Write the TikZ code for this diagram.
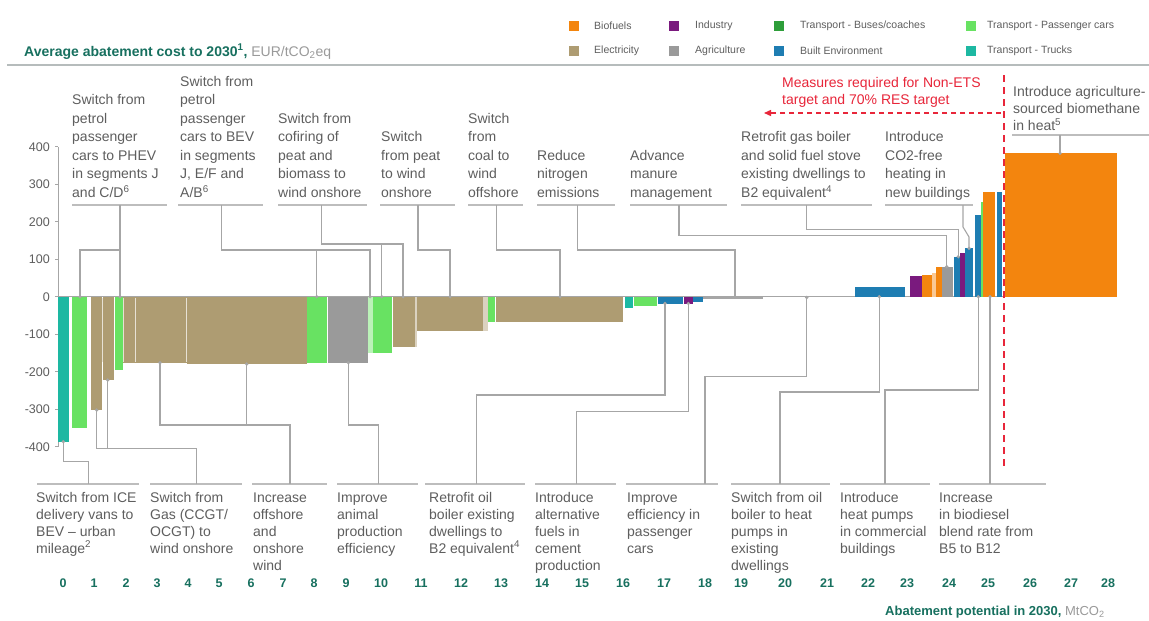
\documentclass[tikz,border=0pt]{standalone}
\usepackage{fontspec}
\setmainfont{Liberation Sans}
\usetikzlibrary{arrows.meta}
\definecolor{cBio}{HTML}{F3850E}
\definecolor{cInd}{HTML}{7A1A7E}
\definecolor{cBus}{HTML}{2E9E3A}
\definecolor{cCar}{HTML}{68E262}
\definecolor{cEle}{HTML}{AE9C72}
\definecolor{cAgr}{HTML}{9A9A9A}
\definecolor{cBui}{HTML}{1E7DB2}
\definecolor{cTru}{HTML}{1DB8A2}
\definecolor{cTeal}{HTML}{17705F}
\definecolor{cTxt}{HTML}{5E5E5E}
\definecolor{cGrey}{HTML}{9A9A9A}
\definecolor{cLine}{HTML}{A6A6A6}
\definecolor{cUl}{HTML}{BDBDBD}
\definecolor{cRule}{HTML}{B6BCBC}
\definecolor{cRed}{HTML}{E8263A}
\begin{document}
\begin{tikzpicture}[x=1pt,y=-1pt,
  lbl/.style={font=\fontsize{14}{18.5}\selectfont, text=cTxt, align=left, inner sep=0pt},
  toplbl/.style={lbl, anchor=south west},
  botlbl/.style={font=\fontsize{14}{17}\selectfont, text=cTxt, align=left, inner sep=0pt, anchor=north west},
  conn/.style={draw=cLine, line width=1.1pt},
  uline/.style={draw=cUl, line width=1.2pt},
  dot/.style={fill=cLine},
  ticklab/.style={font=\fontsize{12.5}{14}\selectfont\bfseries, text=cTeal, inner sep=0pt},
  ylab/.style={font=\fontsize{12.5}{14}\selectfont, text=cTxt, anchor=east, inner sep=0pt},
  legsq/.style={minimum size=10pt, inner sep=0pt},
  legtxt/.style={font=\fontsize{10.5}{12}\selectfont, text=cTxt, anchor=west, inner sep=0pt}
]
\fill[white] (0,0) rectangle (1149,621);
\useasboundingbox (0,0) rectangle (1149,621);

% ---------- header ----------
\node[anchor=base west, inner sep=0pt, font=\fontsize{14}{16}\selectfont] (title) at (24,56)
  {\textcolor{cTeal}{\bfseries Average abatement cost to 2030\textsuperscript{1},} \textcolor{cGrey}{EUR/tCO\textsubscript{2}eq}};
\draw[cRule, line width=2.5pt] (7,65) -- (1149,65);

% legend
\node[legsq, fill=cBio] (ls1) at (574,26) {};   \node[legtxt] (lt1) at (594,26) {Biofuels};
\node[legsq, fill=cInd] (ls2) at (674,26) {};   \node[legtxt] (lt2) at (695,26) {Industry};
\node[legsq, fill=cBus] (ls3) at (779,26) {};   \node[legtxt] (lt3) at (800,26) {Transport - Buses/coaches};
\node[legsq, fill=cCar] (ls4) at (971,26) {};   \node[legtxt] (lt4) at (987,26) {Transport - Passenger cars};
\node[legsq, fill=cEle] (ls5) at (574,50.5) {}; \node[legtxt] (lt5) at (594,50.5) {Electricity};
\node[legsq, fill=cAgr] (ls6) at (674,50.5) {}; \node[legtxt] (lt6) at (695,50.5) {Agriculture};
\node[legsq, fill=cBui] (ls7) at (779,50.5) {}; \node[legtxt] (lt7) at (800,50.5) {Built Environment};
\node[legsq, fill=cTru] (ls8) at (971,50.5) {}; \node[legtxt] (lt8) at (987,50.5) {Transport - Trucks};

% ---------- axes ----------
\draw[cLine, line width=0.8pt] (58.3,147) -- (58.3,447);
\foreach \v [count=\i] in {400,300,200,100,0,-100,-200,-300,-400} {
  \draw[cLine, line width=0.8pt] (55,{296.7-0.375*\v}) -- (58.3,{296.7-0.375*\v});
  \node[ylab] (yl\i) at (50,{296.7-0.375*\v}) {\v};
}
\draw[cLine, line width=0.8pt] (58.3,296.7) -- (1005,296.7);

% ---------- bars ----------
\foreach \xa/\xb/\yb/\c in {
  58.3/69.3/441.7/cTru, 71.7/87.3/428.3/cCar, 91/101.7/410/cEle, 102.7/114.3/380/cEle,
  115/123.3/370/cCar, 123.3/135/362.7/cEle, 135/186.7/362.7/cEle, 186.7/306.7/364/cEle,
  306.7/326.7/362.7/cCar, 328.3/368.3/362.7/cAgr, 372.7/391.7/353.3/cCar,
  393/415/346.7/cEle, 417/483/330.7/cEle, 488/495/321.7/cCar, 496/623/321.7/cEle,
  625/633/308/cTru, 634/657/306/cCar, 658/683/303.5/cBui, 684/693/303.5/cInd, 693/703/302/cBui,
  703/763/298.6/cLine,
  855/905/286.7/cBui, 910/921.7/276/cInd, 922/931.7/275/cBio, 936/941.7/266.7/cBio,
  941.7/952.7/266.7/cAgr, 954/960/256.7/cBui, 960/965/253.3/cInd, 965/973/248.3/cBui,
  975/980.7/215/cBui, 983/995/191.7/cBio, 996.7/1001.7/191.7/cBui,
  1005/1116.7/153.3/cBio} {
  \fill[\c] (\xa,296.7) rectangle (\xb,\yb);
}
\fill[cCar!45!white] (368.3,296.7) rectangle (372.7,353.3);
\fill[cEle!45!white] (415,296.7) rectangle (417,346.7);
\fill[cEle!45!white] (483,296.7) rectangle (488,330.7);
\fill[cBio!45!white] (931.7,296.7) rectangle (936,273);
\fill[cCar] (980.7,296.7) rectangle (983,201.7);
\foreach \xs in {135,186.7,102.3,123.3} \draw[white!70!cEle, line width=0.6pt] (\xs,297.5) -- (\xs,362);

% ---------- red target markers ----------
\coordinate (rv1) at (1004,75);
\coordinate (rv2) at (1004,470);
\draw[cRed, line width=2pt, dash pattern=on 7pt off 5pt] (rv1) -- (rv2);
\coordinate (ra1) at (1001,113);
\coordinate (ra2) at (764,113);
\draw[cRed, line width=1.4pt, dash pattern=on 5pt off 4pt, -{Triangle[length=7pt,width=6pt]}] (ra1) -- (ra2);
\node[anchor=north west, inner sep=0pt, align=left, text=cRed, font=\fontsize{14}{16.7}\selectfont] (red) at (782,75.5)
  {\strut Measures required for Non-ETS\\target and 70\% RES target};

% ---------- top labels ----------
\node[toplbl] (L1) at (72,203) {Switch from\\petrol\\passenger\\cars to PHEV\\in segments J\\and C/D\textsuperscript{6}\strut};
\node[toplbl] (L2) at (180,203) {Switch from\\petrol\\passenger\\cars to BEV\\in segments\\J, E/F and\\A/B\textsuperscript{6}\strut};
\node[toplbl] (L3) at (278,203) {Switch from\\cofiring of\\peat and\\biomass to\\wind onshore\strut};
\node[toplbl] (L4) at (381,203) {Switch\\from peat\\to wind\\onshore\strut};
\node[toplbl] (L5) at (468,203) {Switch\\from\\coal to\\wind\\offshore\strut};
\node[toplbl] (L6) at (537,203) {Reduce\\nitrogen\\emissions\strut};
\node[toplbl] (L7) at (630,203) {Advance\\manure\\management\strut};
\node[toplbl] (L8) at (741,203) {Retrofit gas boiler\\and solid fuel stove\\existing dwellings to\\B2 equivalent\textsuperscript{4}\strut};
\node[toplbl] (L9) at (885,203) {Introduce\\CO2-free\\heating in\\new buildings\strut};
\node[anchor=north west, inner sep=0pt, align=left, text=cTxt, font=\fontsize{14}{16.7}\selectfont] (L10) at (1013,85)
  {\strut Introduce agriculture-\\sourced biomethane\\in heat\textsuperscript{5}};

\foreach \xa/\xb in {72/167,178/263,278/367,380/455,468/523,537/615,630/727,741/872,885/973}
  \draw[uline] (\xa,205) -- (\xb,205);
\draw[uline] (1012,135) -- (1149,135);

% top connectors
\coordinate (T1) at (120,205);   \coordinate (T1e) at (120,250);
\coordinate (P1a) at (80,296.7); \coordinate (P1b) at (120,296.7);
\draw[conn] (T1) -- (P1b); \draw[conn] (T1e) -| (P1a);
\coordinate (T2) at (221.7,205); \coordinate (T2e) at (221.7,250);
\coordinate (P2a) at (316.7,296.7); \coordinate (P2b) at (370,296.7);
\draw[conn] (T2) -- (T2e) -| (P2b); \draw[conn] (P2a |- T2e) -- (P2a);
\coordinate (T3) at (321.7,205); \coordinate (T3e) at (321.7,244);
\coordinate (P3a) at (381.7,296.7); \coordinate (P3b) at (403,296.7);
\draw[conn] (T3) -- (T3e) -| (P3b); \draw[conn] (P3a |- T3e) -- (P3a);
\coordinate (T4) at (418,205); \coordinate (T4e) at (418,250); \coordinate (P4) at (450,296.7);
\draw[conn] (T4) -- (T4e) -| (P4);
\coordinate (T5) at (496.7,205); \coordinate (T5e) at (496.7,250); \coordinate (P5) at (560,296.7);
\draw[conn] (T5) -- (T5e) -| (P5);
\coordinate (T6) at (577.7,205); \coordinate (T6e) at (577.7,250); \coordinate (P6) at (735,296.7);
\draw[conn] (T6) -- (T6e) -| (P6);
\coordinate (T7) at (679,205); \coordinate (T7e) at (679,235.7); \coordinate (P7) at (946.7,266.7);
\draw[conn] (T7) -- (T7e) -| (P7);
\coordinate (T8) at (806.7,205); \coordinate (T8e) at (806.7,229.3); \coordinate (P8) at (958.3,256.7);
\draw[conn] (T8) -- (T8e) -| (P8);
\coordinate (T9) at (963,205); \coordinate (T9e) at (963,227); \coordinate (T9f) at (969,237); \coordinate (P9) at (969,248.3);
\draw[conn] (T9) -- (T9e) -- (T9f) -- (P9);
\coordinate (T10) at (1060,135); \coordinate (P10) at (1060,153.3);
\draw[conn] (T10) -- (P10);
\foreach \p in {P1a,P1b,P2a,P2b,P3a,P3b,P4,P5,P6,P7,P8,P9,P10}
  \fill[dot] (\p) circle[radius=1.8pt];

% ---------- bottom labels ----------
\node[botlbl] (B1) at (36,490) {\strut Switch from ICE\\delivery vans to\\BEV -- urban\\mileage\textsuperscript{2}};
\node[botlbl] (B2) at (150,490) {\strut Switch from\\Gas (CCGT/\\OCGT) to\\wind onshore};
\node[botlbl] (B3) at (253,490) {\strut Increase\\offshore\\and\\onshore\\wind};
\node[botlbl] (B4) at (337,490) {\strut Improve\\animal\\production\\efficiency};
\node[botlbl] (B5) at (429,490) {\strut Retrofit oil\\boiler existing\\dwellings to\\B2 equivalent\textsuperscript{4}};
\node[botlbl] (B6) at (535,490) {\strut Introduce\\alternative\\fuels in\\cement\\production};
\node[botlbl] (B7) at (627,490) {\strut Improve\\efficiency in\\passenger\\cars};
\node[botlbl] (B8) at (731,490) {\strut Switch from oil\\boiler to heat\\pumps in\\existing\\dwellings};
\node[botlbl] (B9) at (840,490) {\strut Introduce\\heat pumps\\in commercial\\buildings};
\node[botlbl] (B10) at (939,490) {\strut Increase\\in biodiesel\\blend rate from\\B5 to B12};

\foreach \xa/\xb in {37/139,150/242,252/327,337/418,425/525,535/616,626/718,731/830,840/930,939/1046}
  \draw[uline] (\xa,484) -- (\xb,484);

% bottom connectors
\coordinate (Q1) at (63.3,441.7); \coordinate (Q1e) at (63.3,461.7); \coordinate (U1) at (88.3,484);
\draw[conn] (Q1) -- (Q1e) -| (U1);
\coordinate (Q2a) at (96.7,410); \coordinate (Q2b) at (107.7,380); \coordinate (Q2e) at (96.7,448.3); \coordinate (U2) at (196.7,484);
\draw[conn] (Q2a) -- (Q2e) -| (U2); \draw[conn] (Q2b) -- (Q2b |- Q2e);
\coordinate (Q3a) at (160,362.7); \coordinate (Q3b) at (246.7,364); \coordinate (Q3e) at (160,425); \coordinate (U3) at (290,484);
\draw[conn] (Q3a) -- (Q3e) -| (U3); \draw[conn] (Q3b) -- (Q3b |- Q3e);
\coordinate (Q4) at (348.3,362.7); \coordinate (Q4e) at (348.3,425); \coordinate (U4) at (378.3,484);
\draw[conn] (Q4) -- (Q4e) -| (U4);
\coordinate (Q5) at (665,303.5); \coordinate (Q5e) at (665,395); \coordinate (U5) at (476.7,484);
\draw[conn] (Q5) -- (Q5e) -| (U5);
\coordinate (Q6) at (688.3,303.5); \coordinate (Q6e) at (688.3,411.7); \coordinate (U6) at (576.7,484);
\draw[conn] (Q6) -- (Q6e) -| (U6);
\coordinate (Q7) at (806.7,297.5); \coordinate (Q7e) at (806.7,376.7); \coordinate (U7) at (705,484);
\draw[conn] (Q7) -- (Q7e) -| (U7);
\coordinate (Q8) at (879.3,296.7); \coordinate (Q8e) at (879.3,392); \coordinate (U8) at (780,484);
\draw[conn] (Q8) -- (Q8e) -| (U8);
\coordinate (Q9) at (978.3,296.7); \coordinate (Q9e) at (978.3,390); \coordinate (U9) at (885,484);
\draw[conn] (Q9) -- (Q9e) -| (U9);
\coordinate (Q10) at (990,296.7); \coordinate (U10) at (990,484);
\draw[conn] (Q10) -- (U10);
\foreach \p in {Q1,Q2a,Q2b,Q3a,Q3b,Q4,Q5,Q6,Q7,Q8,Q9,Q10}
  \fill[dot] (\p) circle[radius=1.8pt];

% ---------- x ticks ----------
\foreach \n/\x in {0/63,1/94,2/126,3/157,4/188,5/219,6/251,7/283,8/314,9/346,10/381,11/421,12/461,13/501,
  14/542,15/582,16/623,17/664,18/705,19/741,20/785,21/827,22/868,23/907,24/949,25/988,26/1030,27/1071,28/1108}
  \node[ticklab] (tk\n) at (\x,583) {\n};
\node[anchor=base west, inner sep=0pt, font=\fontsize{13}{15}\selectfont] (xtitle) at (885,615)
  {\textcolor{cTeal}{\bfseries Abatement potential in 2030,} \textcolor{cGrey}{MtCO\textsubscript{2}}};
\end{tikzpicture}
\end{document}
